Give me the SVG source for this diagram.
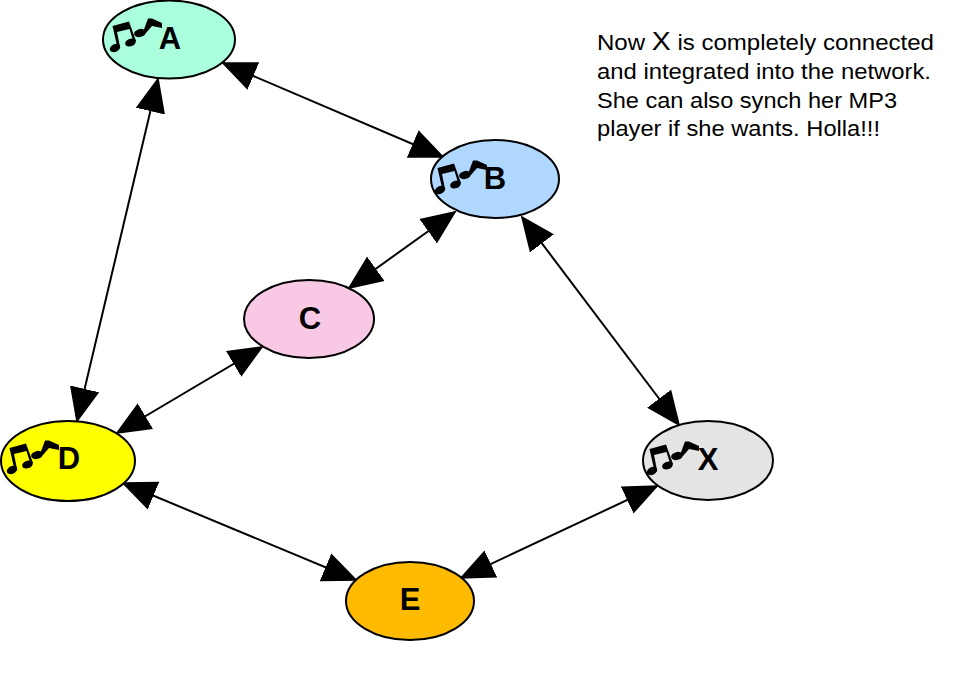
<svg xmlns="http://www.w3.org/2000/svg" width="963" height="675" viewBox="0 0 963 675">
<style>
.n{stroke:#000;stroke-width:2}
.l{font:bold 31px "Liberation Sans",Arial,sans-serif;fill:#000;text-anchor:middle}
.t{font:22px "Liberation Sans",Arial,sans-serif;fill:#000}
.c line{stroke:#000;stroke-width:2;marker-start:url(#h);marker-end:url(#h)}
</style>
<defs>
<marker id="h" markerUnits="userSpaceOnUse" markerWidth="36" markerHeight="32" refX="33" refY="16" orient="auto-start-reverse"><path d="M0 1L35 16L0 31Z" fill="#000"/></marker>
<symbol id="notes" width="54" height="36" viewBox="0 0 54 36" overflow="visible">
<g fill="#000">
<ellipse cx="5" cy="30" rx="5.500" ry="3.800" transform="rotate(-25 5 30)"/>
<ellipse cx="20.500" cy="24.500" rx="5.500" ry="3.800" transform="rotate(-20 20.500 24.500)"/>
<ellipse cx="30" cy="15" rx="6" ry="4" transform="rotate(-15 30 15)"/>
<path d="M2.500 8L19 3.500L26 23L23.500 24L19.500 11L7 14L10 29L7.500 30Z"/>
<path d="M33 14L38 0.500L42 0.500L52 5L52 10L42 8L36 15Z"/>
</g>
</symbol>
</defs>
<g id="connectors" class="c">
<line x1="223" y1="63" x2="443" y2="157"/>
<line x1="158" y1="79" x2="77" y2="421"/>
<line x1="455" y1="212" x2="349" y2="288"/>
<line x1="522" y1="217" x2="679" y2="425"/>
<line x1="262" y1="347" x2="117" y2="433"/>
<line x1="123" y1="483" x2="356" y2="580"/>
<line x1="461" y1="578" x2="657" y2="486"/>
</g>
<g id="node-A"><ellipse class="n" cx="169" cy="39.500" rx="66" ry="39" fill="#aaffdd"/><use href="#notes" x="110" y="18"/><text class="l" x="170" y="49">A</text></g>
<g id="node-B"><ellipse class="n" cx="495" cy="179" rx="64" ry="39" fill="#b0d8ff"/><use href="#notes" x="435" y="160"/><text class="l" x="495" y="189">B</text></g>
<g id="node-C"><ellipse class="n" cx="309" cy="319" rx="65" ry="39" fill="#f8c8e4"/><text class="l" x="310" y="329">C</text></g>
<g id="node-D"><ellipse class="n" cx="68" cy="461" rx="67" ry="40" fill="#ffff00"/><use href="#notes" x="7" y="440"/><text class="l" x="69" y="469">D</text></g>
<g id="node-X"><ellipse class="n" cx="708" cy="460.500" rx="65" ry="39.500" fill="#e4e4e4"/><use href="#notes" x="647" y="441"/><text class="l" x="708" y="470">X</text></g>
<g id="node-E"><ellipse class="n" cx="410" cy="601" rx="64" ry="39" fill="#ffbb00"/><text class="l" x="410" y="610">E</text></g>
<g id="note">
<text class="t" x="597" y="50" textLength="337" lengthAdjust="spacingAndGlyphs">Now <tspan font-size="26">X</tspan> is completely connected</text>
<text class="t" x="597" y="79" textLength="334" lengthAdjust="spacingAndGlyphs">and integrated into the network.</text>
<text class="t" x="597" y="108" textLength="300" lengthAdjust="spacingAndGlyphs">She can also synch her MP3</text>
<text class="t" x="597" y="136" textLength="283" lengthAdjust="spacingAndGlyphs">player if she wants. Holla!!!</text>
</g>
</svg>
